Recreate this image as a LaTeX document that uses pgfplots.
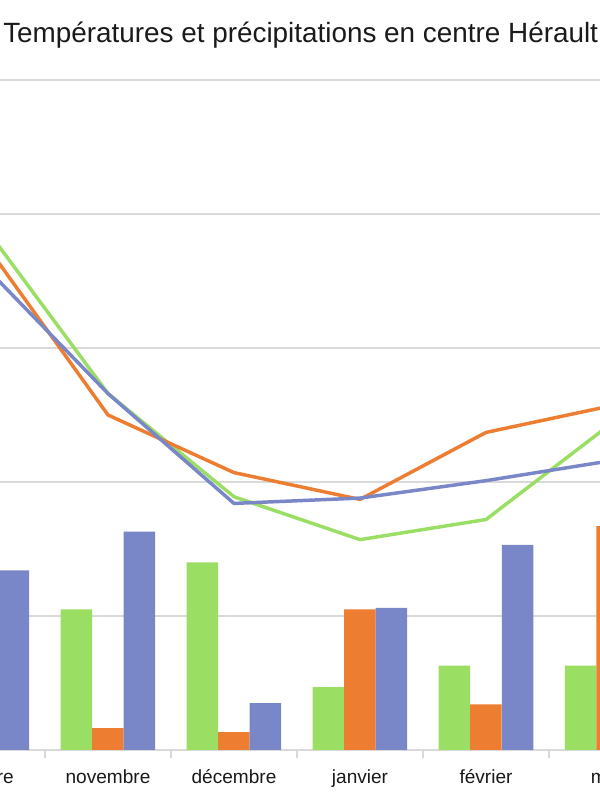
\documentclass[border=0pt]{standalone}
\usepackage{pgfplots}
\pgfplotsset{compat=1.18}
\usepackage{fontspec}
\setmainfont{Liberation Sans}
\definecolor{cgreen}{HTML}{9BDE64}
\definecolor{corange}{HTML}{ED7D31}
\definecolor{cblue}{HTML}{7986C8}
\definecolor{cgrid}{HTML}{D9D9D9}
\definecolor{ctext}{HTML}{1A1A1A}
\begin{document}
\begin{tikzpicture}
\useasboundingbox (0,0) rectangle (450pt,600pt);
\clip (0,0) rectangle (450pt,600pt);
\begin{axis}[
  at={(-60.75pt,37.5pt)}, anchor=south west,
  scale only axis, width=567pt, height=502.5pt,
  xmin=-0.5, xmax=5.5, ymin=0, ymax=50,
  axis line style={draw=none},
  ymajorgrids, ytick={0,10,20,30,40,50}, yticklabels={},
  ytick style={draw=none},
  grid style={cgrid, line width=0.8pt},
  xtick={0,1,2,3,4,5},
  xticklabels={octobre,novembre,décembre,janvier,février,mars},
  major x tick style={draw=none},
  minor xtick={-0.5,0.5,1.5,2.5,3.5,4.5,5.5},
  minor tick length=6pt, tick align=outside, xtick pos=bottom,
  minor x tick style={cgrid, line width=0.8pt},
  xticklabel style={font=\fontsize{14.3pt}{17pt}\selectfont, text=ctext, anchor=base, yshift=-20.5pt},
]
% precipitation bars
\addplot[ybar, bar width=0.25, bar shift=-0.25, fill=cgreen, draw=none]
  coordinates {(0,8) (1,10.5) (2,14.0) (3,4.7) (4,6.3) (5,6.3)};
\addplot[ybar, bar width=0.25, bar shift=0, fill=corange, draw=none]
  coordinates {(0,12) (1,1.64) (2,1.34) (3,10.5) (4,3.4) (5,16.7)};
\addplot[ybar, bar width=0.25, bar shift=0.25, fill=cblue, draw=none]
  coordinates {(0,13.4) (1,16.3) (2,3.5) (3,10.6) (4,15.3) (5,5)};
% temperature lines
\addplot[cgreen, line width=2.6pt, mark=none, line join=round]
  coordinates {(0,39.3) (1,26.6) (2,18.9) (3,15.7) (4,17.2) (5,24.4)};
\addplot[corange, line width=2.6pt, mark=none, line join=round]
  coordinates {(0,38.1) (1,25.0) (2,20.7) (3,18.7) (4,23.7) (5,25.7)};
\addplot[cblue, line width=2.6pt, mark=none, line join=round]
  coordinates {(0,36.3) (1,26.6) (2,18.4) (3,18.8) (4,20.1) (5,21.6)};
\end{axis}
\node[font=\fontsize{20.9pt}{24pt}\selectfont, text=ctext] at (225.5pt,574pt)
  {Températures et précipitations en centre Hérault};
\end{tikzpicture}
\end{document}
